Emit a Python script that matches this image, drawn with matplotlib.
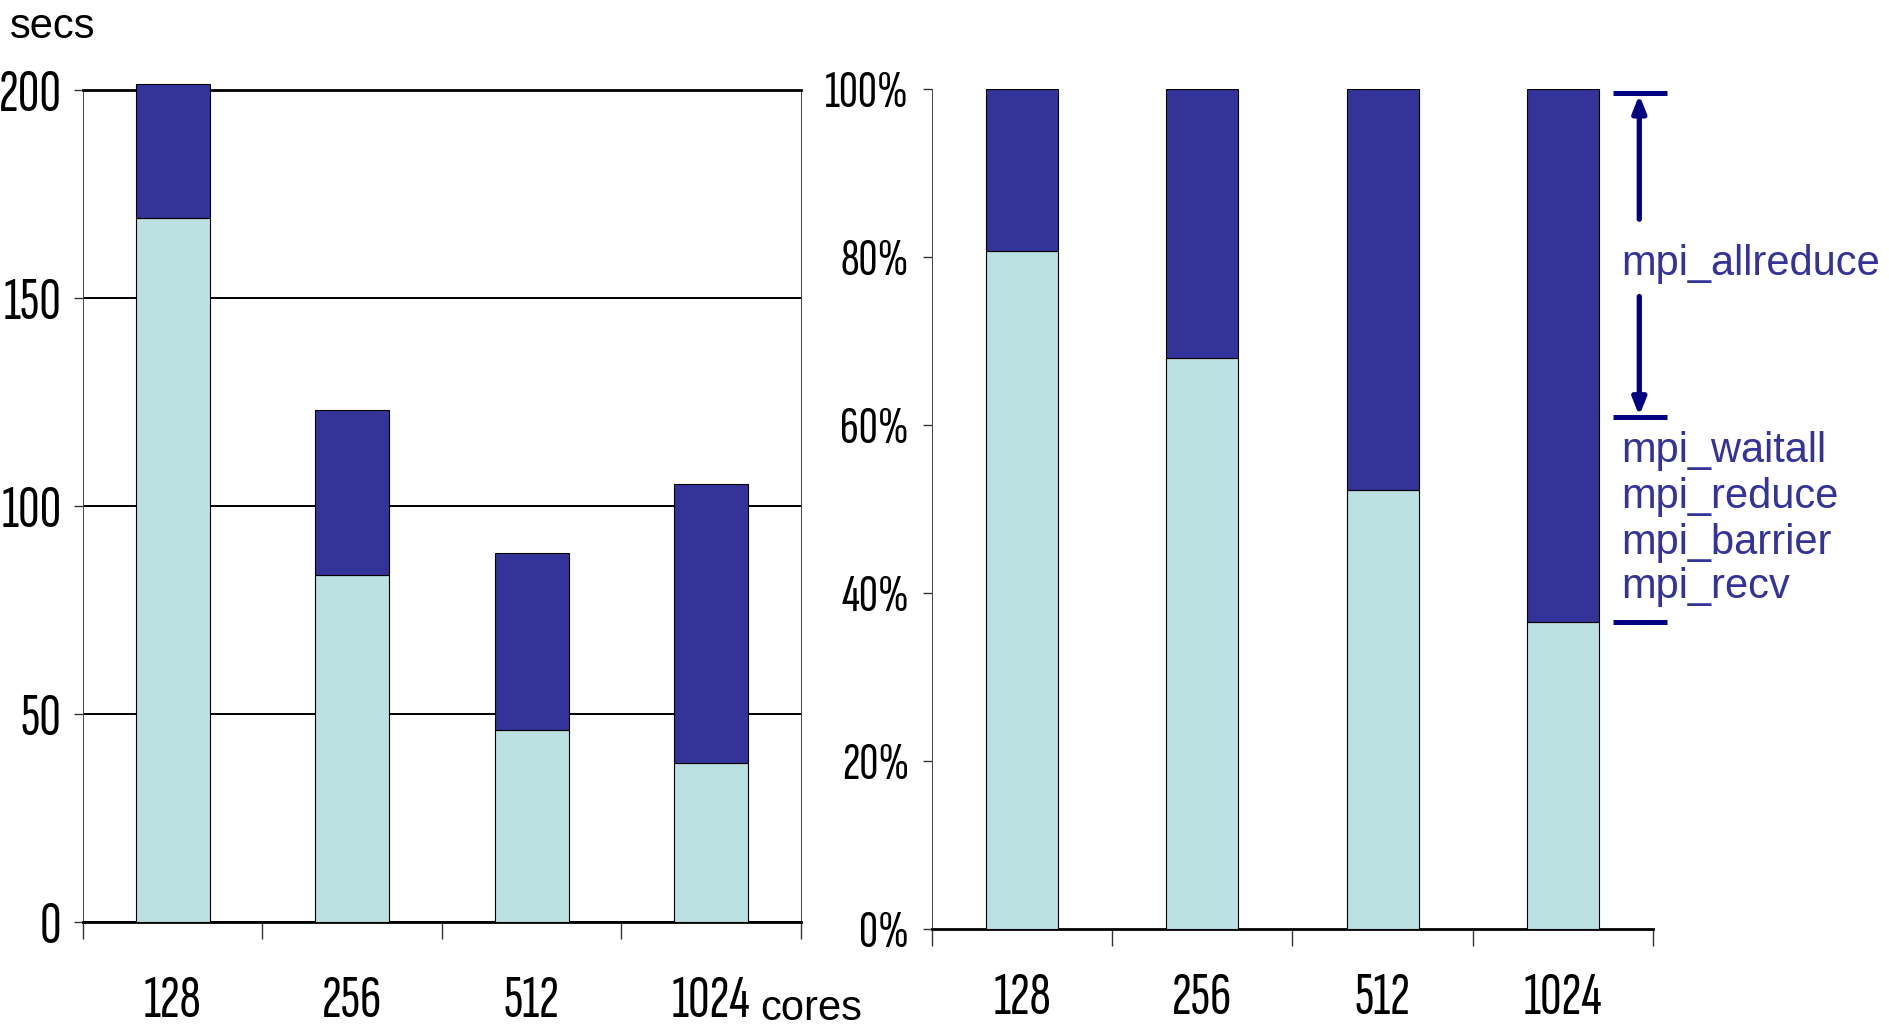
"""
Stacked bars of run time per core count: absolute seconds on the left,
share of the total on the right, with a bracket naming the MPI calls.
"""

import matplotlib
matplotlib.use("Agg")
import matplotlib.pyplot as plt
import matplotlib.transforms as mtransforms
import numpy as np


CORES = ["128", "256", "512", "1024"]

# seconds
compute_secs = [169.2, 83.4, 46.2, 38.3]
mpi_secs = [32.2, 39.7, 42.4, 67.0]

# percent of total
compute_pct = [80.7, 68.0, 52.3, 36.5]
mpi_pct = [19.3, 32.0, 47.7, 63.5]

SECS_TICKS = [0, 50, 100, 150, 200]
PCT_TICKS = [0, 20, 40, 60, 80, 100]

# bracket on the 1024 bar: allreduce part and the rest of the MPI time
BRACKET_LEVELS = [99.5, 60.9, 36.5]
ALLREDUCE_LABEL = "mpi_allreduce"
OTHER_LABELS = ["mpi_waitall", "mpi_reduce", "mpi_barrier", "mpi_recv"]

LIGHT = "#bbe1e3"
DARK = "#333399"
NAVY = "#000080"
NARROW = ["Sofia Sans Extra Condensed", "Roboto Condensed", "DejaVu Sans"]
PLAIN = ["Liberation Sans", "Arimo", "DejaVu Sans"]

W, H = 1890, 1030
fig = plt.figure(figsize=(W / 100, H / 100), dpi=100)


def px_axes(x0, y_top, x1, y_bottom):
    return fig.add_axes([x0 / W, 1 - y_bottom / H, (x1 - x0) / W, (y_bottom - y_top) / H])


def setup_category_axis(ax, pad):
    x = np.arange(len(CORES))
    ax.set_xlim(-0.5, len(CORES) - 0.5)
    ax.set_xticks(np.arange(len(CORES) + 1) - 0.5)
    ax.set_xticklabels([])
    ax.set_xticks(x, minor=True)
    ax.set_xticklabels(CORES, minor=True, family=NARROW, fontsize=43)
    ax.tick_params(axis="x", which="major", direction="out", length=12.5, width=1.0, color="#333333")
    ax.tick_params(axis="x", which="minor", length=0, pad=pad)
    return x


# ---- left panel: seconds ----
ax1 = px_axes(83, 90, 801, 922)
x = setup_category_axis(ax1, pad=38)
ax1.bar(x, compute_secs, width=0.41, color=LIGHT, edgecolor="black", linewidth=0.8, zorder=3)
ax1.bar(x, mpi_secs, width=0.41, bottom=compute_secs, color=DARK, edgecolor="black",
        linewidth=0.8, zorder=3, clip_on=False)
ax1.set_ylim(0, 200)
ax1.set_yticks(SECS_TICKS)
ax1.set_yticklabels([str(v) for v in SECS_TICKS], family=NARROW, fontsize=43)
ax1.tick_params(axis="y", direction="out", length=6.5, width=1.0, pad=9, color="#333333")
ax1.yaxis.grid(True, color="black", linewidth=1.4, zorder=1)
ax1.set_axisbelow(True)
for side in ("left", "right"):
    ax1.spines[side].set_linewidth(0.7)
    ax1.spines[side].set_color("#444444")
ax1.spines["top"].set_linewidth(2.0)
ax1.spines["bottom"].set_linewidth(2.0)

fig.text(10 / W, 1 - 38 / H, "secs", family=PLAIN, fontsize=30, va="baseline", ha="left")
fig.text(760 / W, 1 - 1020 / H, "cores", family=PLAIN, fontsize=30, va="baseline", ha="left")

# ---- right panel: percent ----
ax2 = px_axes(932, 89, 1653, 929)
x = setup_category_axis(ax2, pad=31)
ax2.bar(x, compute_pct, width=0.40, color=LIGHT, edgecolor="black", linewidth=0.8, zorder=3)
ax2.bar(x, mpi_pct, width=0.40, bottom=compute_pct, color=DARK, edgecolor="black",
        linewidth=0.8, zorder=3)
ax2.set_ylim(0, 100)
ax2.set_yticks(PCT_TICKS)
ax2.set_yticklabels([f"{v}%" for v in PCT_TICKS], family=NARROW, fontsize=38)
ax2.tick_params(axis="y", direction="out", length=6.5, width=1.0, pad=10, color="#333333")
ax2.spines["top"].set_visible(False)
ax2.spines["right"].set_visible(False)
ax2.spines["left"].set_linewidth(0.7)
ax2.spines["left"].set_color("#444444")
ax2.spines["bottom"].set_linewidth(2.0)

# ---- bracket with MPI call names ----
tr = mtransforms.blended_transform_factory(ax2.transAxes, ax2.transData)
bx0, bx1, bxm = 0.945, 1.019, 0.981
for level in BRACKET_LEVELS:
    ax2.plot([bx0, bx1], [level, level], transform=tr, color=NAVY, linewidth=3.6,
             solid_capstyle="butt", clip_on=False)

top, mid, bottom = BRACKET_LEVELS
arrow_style = dict(arrowstyle="-|>,head_length=1.0,head_width=0.4", color=NAVY,
                   linewidth=3.8, shrinkA=0, shrinkB=0)
ax2.annotate("", xy=(bxm, top - 0.2), xytext=(bxm, 84.5), xycoords=tr, textcoords=tr,
             arrowprops=arrow_style, annotation_clip=False)
ax2.annotate("", xy=(bxm, mid + 0.2), xytext=(bxm, 75.3), xycoords=tr, textcoords=tr,
             arrowprops=arrow_style, annotation_clip=False)

tx = 0.9556
ax2.text(tx, 77.9, ALLREDUCE_LABEL, transform=tr, color=DARK, family=PLAIN, fontsize=30,
         va="baseline", ha="left")
for label, y in zip(OTHER_LABELS, [55.6, 50.1, 44.7, 39.4]):
    ax2.text(tx, y, label, transform=tr, color=DARK, family=PLAIN, fontsize=30,
             va="baseline", ha="left")

fig.savefig("out.png", dpi=100)
